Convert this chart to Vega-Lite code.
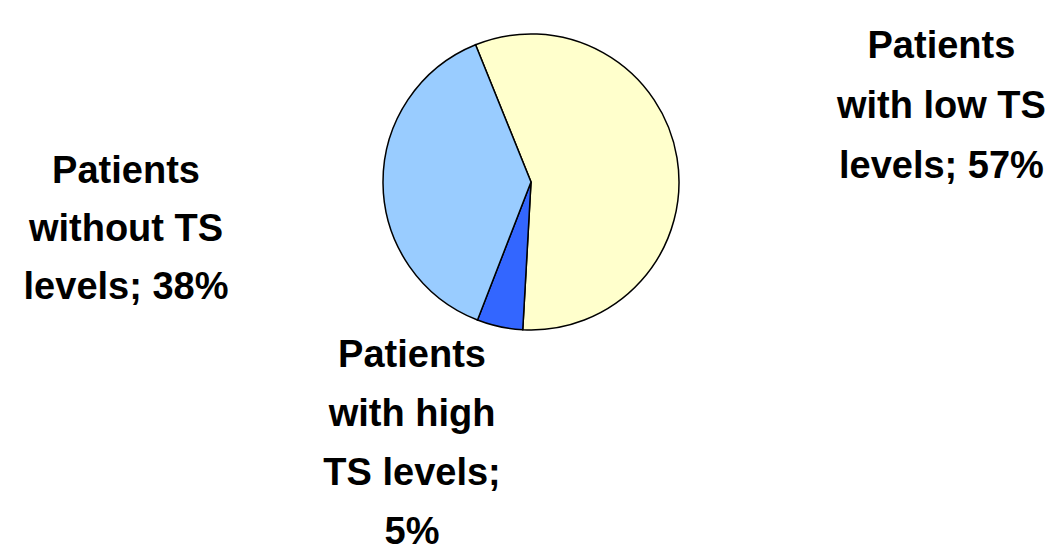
{
  "$schema": "https://vega.github.io/schema/vega-lite/v6.json",
  "width": 1062,
  "height": 364,
  "padding": 0,
  "autosize": {"type": "pad"},
  "background": "white",
  "view": {"stroke": null},
  "data": {
    "values": [
      {"group": "Patients with low TS levels", "label": "Patients\nwith low TS\nlevels; 57%", "value": 57, "order": 1},
      {"group": "Patients with high TS levels", "label": "Patients\nwith high\nTS levels;\n5%", "value": 5, "order": 2},
      {"group": "Patients without TS levels", "label": "Patients\nwithout TS\nlevels; 38%", "value": 38, "order": 3}
    ]
  },
  "transform": [
    {"stack": "value", "groupby": [], "sort": [{"field": "order", "order": "ascending"}], "as": ["v0", "v1"]},
    {"calculate": "(datum.v0 + datum.v1) / 2", "as": "mid"}
  ],
  "layer": [
    {
      "mark": {"type": "arc", "radius": 148, "stroke": "black", "strokeWidth": 1.5},
      "encoding": {
        "theta": {"field": "v0", "type": "quantitative", "scale": {"domain": [0, 100], "range": [-0.384, 5.899]}},
        "theta2": {"field": "v1"},
        "color": {
          "field": "group",
          "type": "nominal",
          "scale": {
            "domain": ["Patients with low TS levels", "Patients with high TS levels", "Patients without TS levels"],
            "range": ["#FFFFCC", "#3366FF", "#99CCFF"]
          },
          "legend": null
        }
      }
    },
    {
      "transform": [{"filter": "datum.order == 1"}],
      "mark": {"type": "text", "radius": 416, "dy": -67, "font": "Liberation Sans", "fontWeight": "bold", "fontSize": 38, "lineHeight": 60, "lineBreak": "\n", "align": "center", "baseline": "middle", "color": "black"},
      "encoding": {
        "theta": {"field": "mid", "type": "quantitative", "scale": {"domain": [0, 100], "range": [-0.384, 5.899]}},
        "text": {"field": "label"}
      }
    },
    {
      "transform": [{"filter": "datum.order == 2"}],
      "mark": {"type": "text", "radius": 284, "dx": -59, "dy": -104, "font": "Liberation Sans", "fontWeight": "bold", "fontSize": 38, "lineHeight": 59, "lineBreak": "\n", "align": "center", "baseline": "middle", "color": "black"},
      "encoding": {
        "theta": {"field": "mid", "type": "quantitative", "scale": {"domain": [0, 100], "range": [-0.384, 5.899]}},
        "text": {"field": "label"}
      }
    },
    {
      "transform": [{"filter": "datum.order == 3"}],
      "mark": {"type": "text", "radius": 405, "dy": -13, "font": "Liberation Sans", "fontWeight": "bold", "fontSize": 38, "lineHeight": 58, "lineBreak": "\n", "align": "center", "baseline": "middle", "color": "black"},
      "encoding": {
        "theta": {"field": "mid", "type": "quantitative", "scale": {"domain": [0, 100], "range": [-0.384, 5.899]}},
        "text": {"field": "label"}
      }
    }
  ]
}
